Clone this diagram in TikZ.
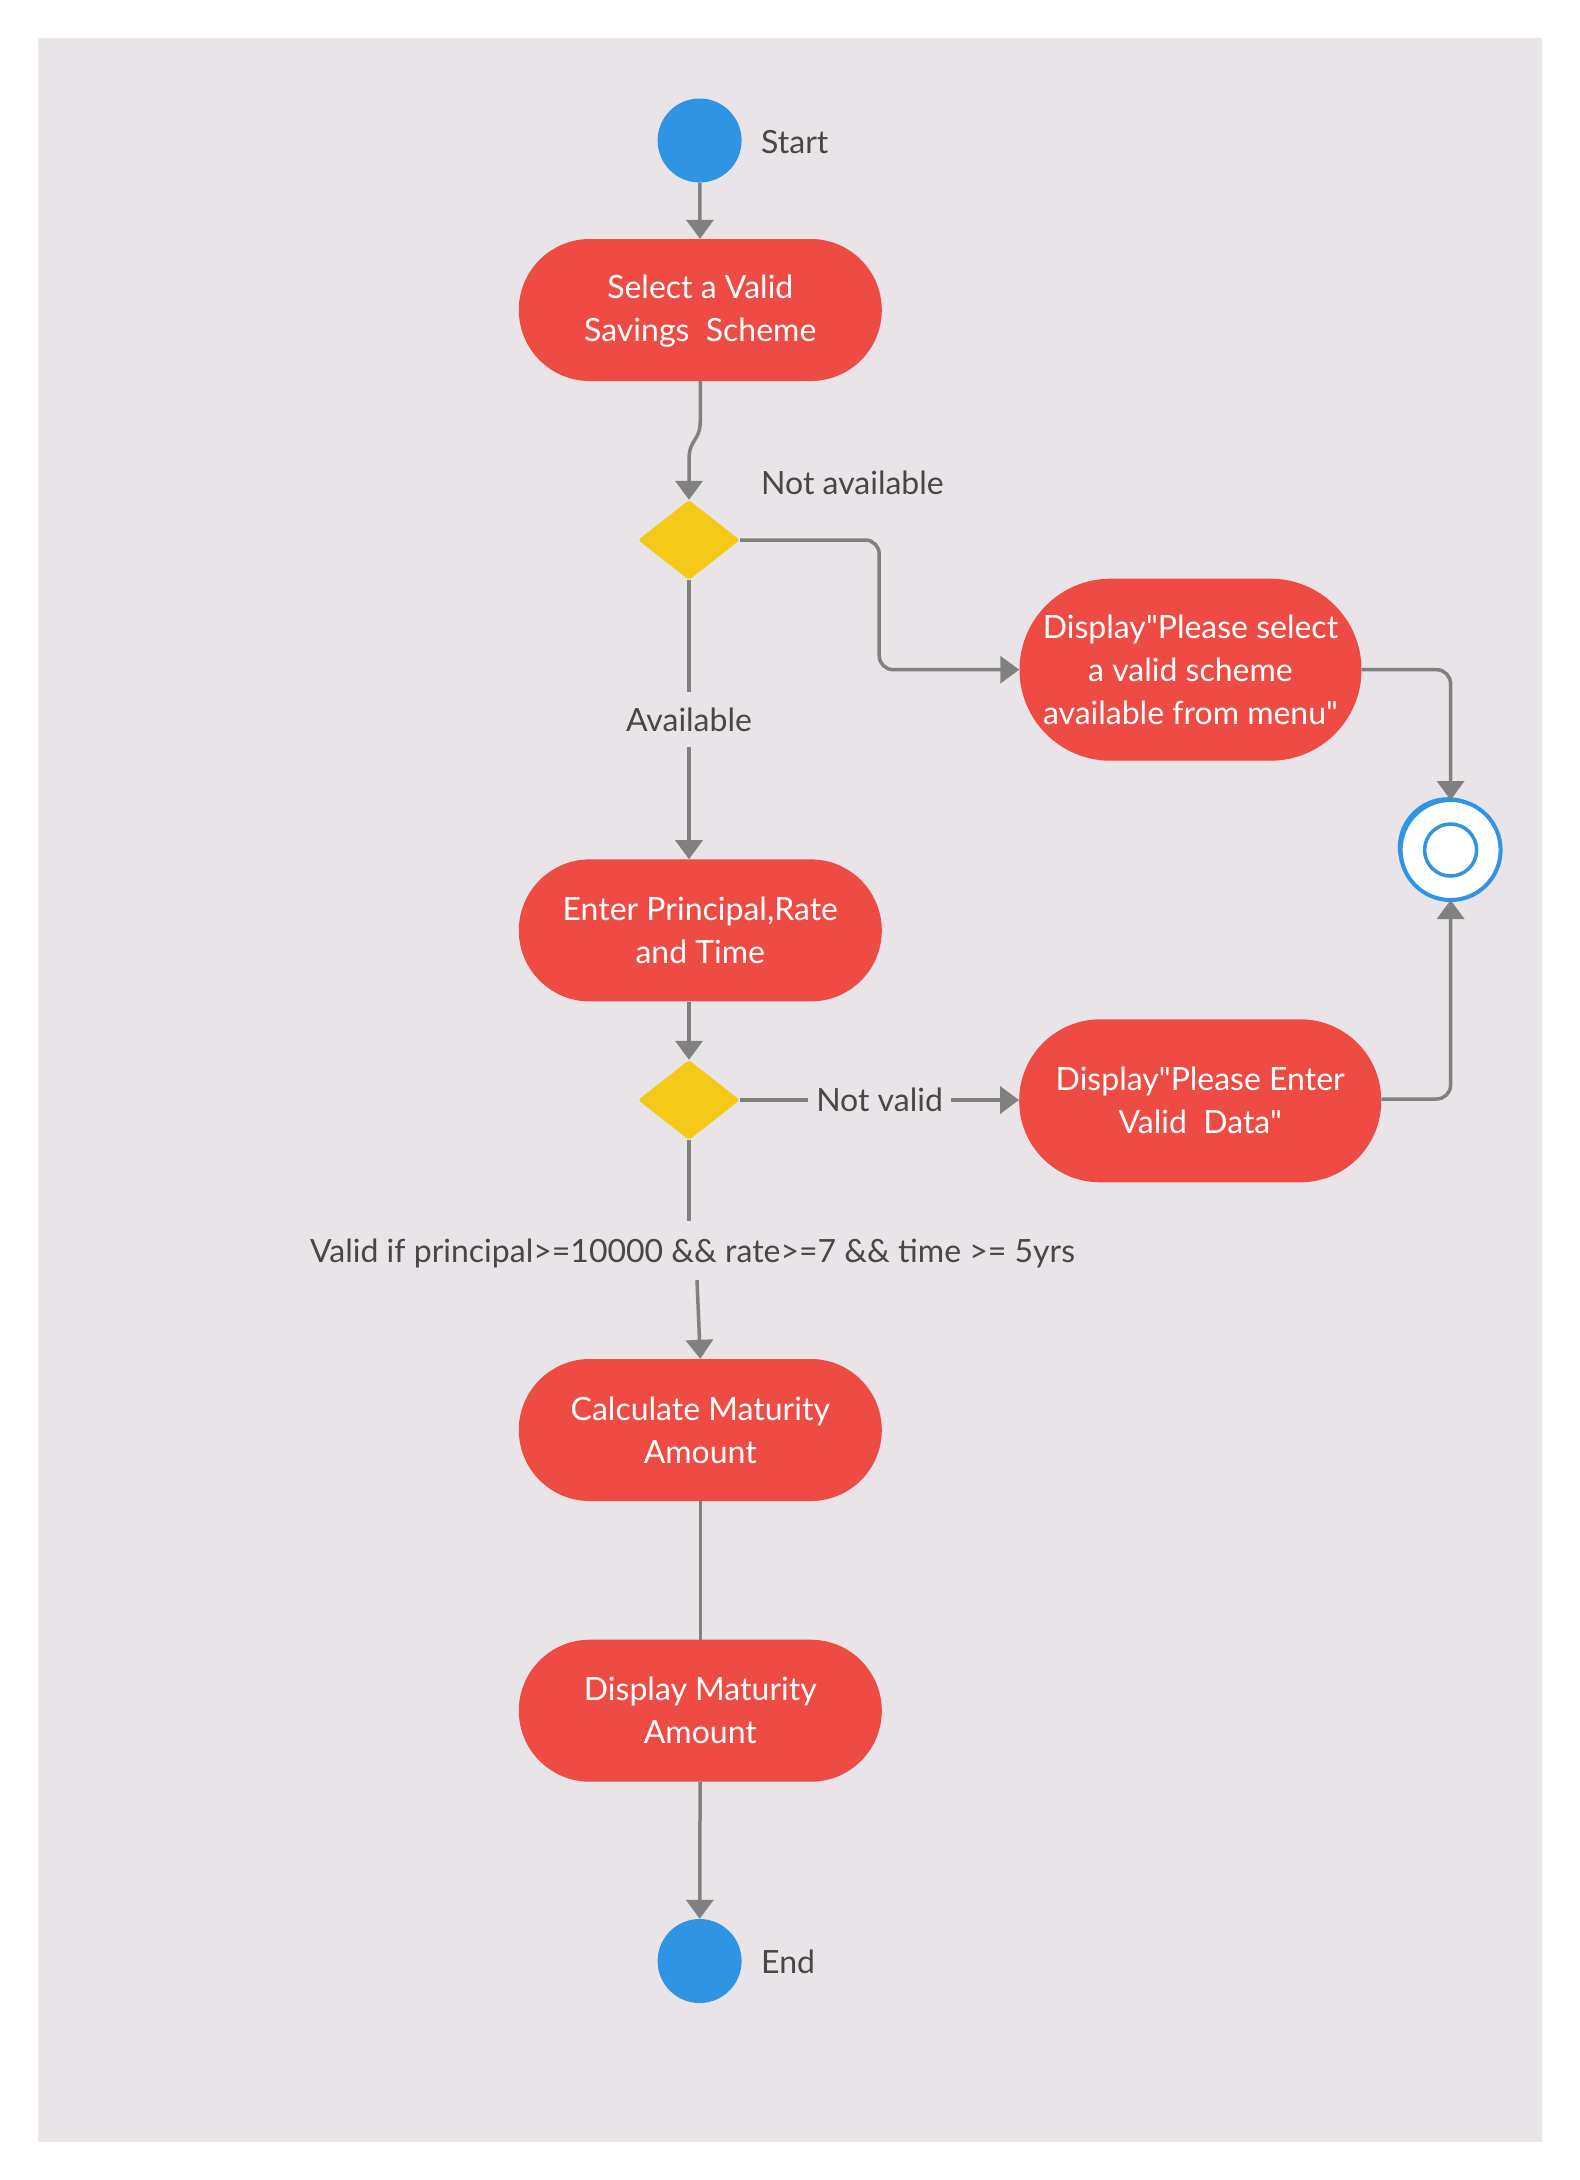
\documentclass[tikz,border=0pt]{standalone}
\usepackage{fontspec}
\setmainfont{Lato}[Ligatures=TeXOff]
\usetikzlibrary{arrows.meta,calc,shapes.geometric}
\definecolor{bg}{HTML}{E8E4E8}
\definecolor{actred}{HTML}{EE4B45}
\definecolor{decyel}{HTML}{F5C918}
\definecolor{stblue}{HTML}{2E94E3}
\definecolor{linegray}{HTML}{808080}
\definecolor{txtgray}{HTML}{474747}
\tikzset{
  startend/.style={circle, fill=stblue, minimum size=84pt, inner sep=0pt, draw=none},
  act/.style={rectangle, fill=actred, text=white, align=center, inner sep=0pt,
    font=\fontsize{32}{43}\selectfont},
  dec/.style={diamond, fill=decyel, minimum width=102pt, minimum height=80pt, inner sep=0pt, rounded corners=3pt},
  lbl/.style={text=txtgray, font=\fontsize{32}{40}\selectfont, inner sep=0pt},
  conn/.style={draw=linegray, line width=3.5pt, -{Triangle[length=19pt,width=27pt]}},
  plainline/.style={draw=linegray, line width=3.5pt},
}
\begin{document}
\begin{tikzpicture}[x=1pt,y=-1pt]
\useasboundingbox (0,0) rectangle (1580,2180);
\fill[white] (0,0) rectangle (1580,2180);
\fill[bg] (37.5,37.5) rectangle (1542.4,2141.8);

% nodes
\node[startend] (start) at (699.6,140.5) {};
\node[lbl, anchor=west] (startlbl) at (761,142) {Start};

\node[act, minimum width=363pt, minimum height=142pt, rounded corners=71pt, text depth=3pt] (select) at (700.3,310) {Select a Valid\\Savings~\ Scheme};

\node[dec] (d1) at (689,540) {};
\node[lbl, anchor=west] (nalbl) at (761,483) {Not available};

\node[act, minimum width=342pt, minimum height=182pt, rounded corners=91pt] (disp1) at (1190.5,669.7) {Display"Please select\\a valid scheme\\available from menu"};

\node[act, minimum width=363pt, minimum height=142pt, rounded corners=71pt] (enter) at (700.3,930.4) {Enter Principal,Rate\\and Time};

\node[dec] (d2) at (689,1100) {};

\node[act, minimum width=362pt, minimum height=163pt, rounded corners=81pt] (disp2) at (1200.2,1100.8) {Display"Please Enter\\Valid~\ Data"};

\fill[stblue] (1447.8,847.2) circle (50pt);
\node[circle, fill=white, draw=stblue, line width=4pt, minimum size=100pt, inner sep=0pt, outer sep=0pt] (final) at (1450.6,850) {};
\node[circle, draw=stblue, line width=3.5pt, minimum size=52pt, inner sep=0pt] (finalin) at (1450.6,850) {};

\node[lbl, minimum height=59pt] (valid) at (692.6,1253) {Valid if principal>=10000 \&\& rate>=7 \&\& time >= 5yrs};

\node[act, minimum width=363pt, minimum height=142pt, rounded corners=71pt] (calc) at (700.3,1430) {Calculate Maturity\\Amount};

\node[act, minimum width=363pt, minimum height=142pt, rounded corners=71pt] (dispm) at (700.3,1710.7) {Display Maturity\\Amount};

\node[startend] (end) at (699.6,1961) {};
\node[lbl, anchor=west] (endlbl) at (761,1962) {End};

% connectors
\draw[conn] (start) -- (select);
\draw[conn] (select.south) -- ++(0,39) .. controls +(0,22) and +(0,-22) .. (689,460) -- (d1.north);
\draw[conn, rounded corners=14pt] (d1.east) -- ($(d1.east)+(139,0)$) |- (disp1.west);
\draw[conn] (d1.south) -- node[lbl, fill=bg, minimum height=55pt, inner xsep=4pt] (avlbl) {Available} (d1.south |- enter.north);
\draw[conn] (enter.south -| d2.north) -- (d2.north);
\draw[conn] (d2.east) -- node[lbl, fill=bg, inner xsep=8pt, minimum height=40pt] (nvlbl) {Not valid} (disp2.west |- d2.east);
\draw[conn, rounded corners=14pt] (disp1.east) -| (final.north);
\draw[conn, rounded corners=14pt] (disp2.east |- 0,1099) -| (final.south);
\draw[plainline] (d2.south) -- (d2.south |- 0,1221);
\draw[conn] (697,1280) -- (calc.north);
\draw[plainline] (calc) -- (dispm);
\draw[conn] (dispm) -- (end);
\end{tikzpicture}
\end{document}
